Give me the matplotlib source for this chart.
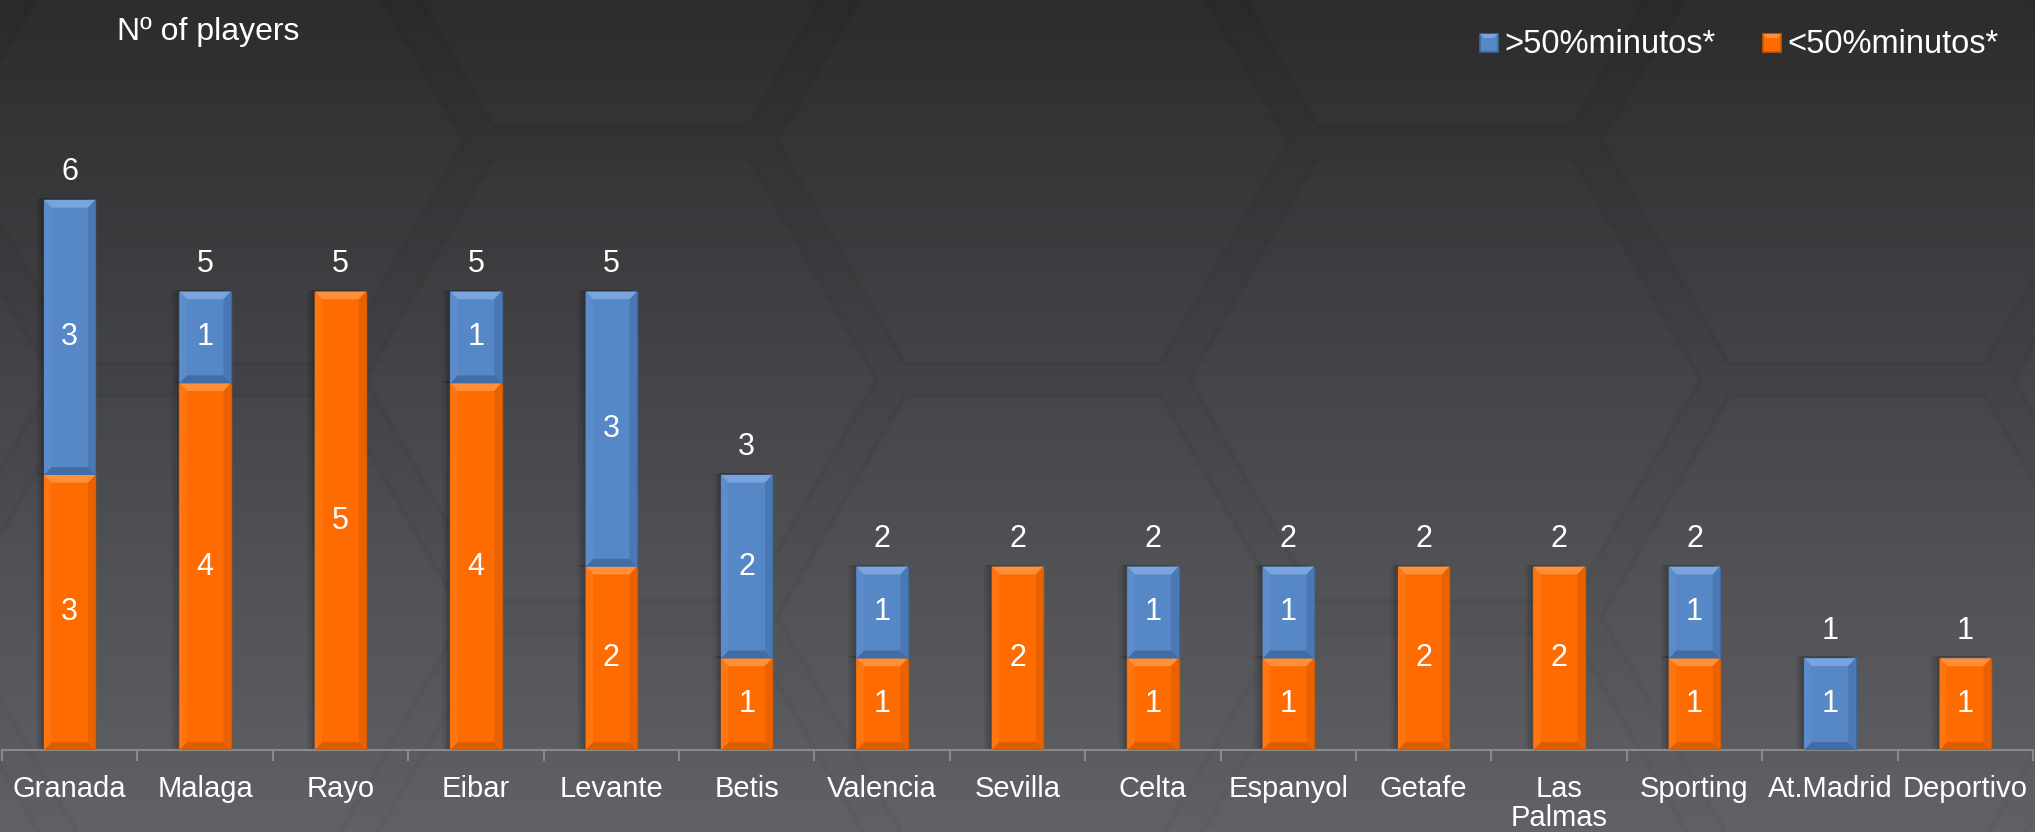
import numpy as np
import matplotlib
matplotlib.use("Agg")
import matplotlib.pyplot as plt
from matplotlib.patches import Polygon, Rectangle

teams = ["Granada", "Malaga", "Rayo", "Eibar", "Levante", "Betis", "Valencia", "Sevilla",
         "Celta", "Espanyol", "Getafe", "Las\nPalmas", "Sporting", "At.Madrid", "Deportivo"]
over50 = [3, 1, 0, 1, 3, 2, 1, 0, 1, 1, 0, 0, 1, 1, 0]
under50 = [3, 4, 5, 4, 2, 1, 1, 2, 1, 1, 2, 2, 1, 0, 1]
legend_labels = [">50%minutos*", "<50%minutos*"]
ylabel_text = "Nº of players"

plt.rcParams['font.family'] = ['Liberation Sans', 'DejaVu Sans']

W, H, DPI = 2035, 832, 100
fig = plt.figure(figsize=(W / DPI, H / DPI), dpi=DPI)

# background gradient
bg = fig.add_axes([0, 0, 1, 1])
bg.set_axis_off()
grad = np.linspace(0, 1, 256)[:, None]
top = np.array([0x2a, 0x2a, 0x2c]) / 255
bot = np.array([0x60, 0x61, 0x66]) / 255
img = top[None, None, :] * (1 - grad[..., None]) + bot[None, None, :] * grad[..., None]
img = np.repeat(img, 4, axis=1)
bg.imshow(img, aspect='auto', extent=[0, 1, 0, 1], origin='upper')
# faint hexagon pattern
asp = W / H
R = 0.135
for i, cx in enumerate(np.arange(-0.1, 1.2, 1.5 * R)):
    for cy in np.arange(-0.6, 1.6, np.sqrt(3) * R * asp):
        yy = cy + (0.5 * np.sqrt(3) * R * asp if i % 2 else 0)
        ang = np.linspace(0, 2 * np.pi, 7)
        px = cx + R * 0.93 * np.cos(ang)
        py = yy + R * 0.93 * np.sin(ang) * asp
        bg.add_patch(Polygon(np.c_[px, py], closed=True, transform=bg.transAxes,
                             facecolor=(1, 1, 1, 0.01), edgecolor=(0, 0, 0, 0.03), lw=4))
bg.set_xlim(0, 1)
bg.set_ylim(0, 1)

ax = fig.add_axes([0.001, 82 / 832, 0.998, 750 / 832])
ax.patch.set_alpha(0)
x = np.arange(len(teams))
bw = 0.38

blue = "#5687c7"
orange = "#fe6b00"
b_or = ax.bar(x, under50, bw, color=orange, edgecolor="#cf5a00", lw=1, zorder=3)
b_bl = ax.bar(x, over50, bw, bottom=under50, color=blue, edgecolor="#3d679f", lw=1, zorder=3)

ax.set_xlim(-0.5, len(teams) - 0.5)
ax.set_ylim(0, 750 / 91.7)

bx = 0.055
by = 0.085

def bevel(rect, light, dark, mid_l, mid_d):
    x0, y0 = rect.get_x(), rect.get_y()
    w, h = rect.get_width(), rect.get_height()
    if h <= 0:
        return
    x1, y1 = x0 + w, y0 + h
    for k, a in enumerate([0.10, 0.08, 0.06]):
        ax.add_patch(Rectangle((x0 - 0.02 - 0.02 * k, y0), w, h + 0.02, facecolor=(0, 0, 0, a),
                               edgecolor='none', zorder=2))
    polys = [
        ([(x0, y1), (x1, y1), (x1 - bx, y1 - by), (x0 + bx, y1 - by)], light),
        ([(x0, y0), (x1, y0), (x1 - bx, y0 + by), (x0 + bx, y0 + by)], dark),
        ([(x0, y0), (x0, y1), (x0 + bx, y1 - by), (x0 + bx, y0 + by)], mid_l),
        ([(x1, y0), (x1, y1), (x1 - bx, y1 - by), (x1 - bx, y0 + by)], mid_d),
    ]
    for pts, c in polys:
        ax.add_patch(Polygon(pts, closed=True, facecolor=c, edgecolor='none', zorder=4))

for r in b_or:
    bevel(r, "#ff9038", "#dc5c00", "#ff7610", "#ea6200")
for r in b_bl:
    bevel(r, "#79a4dd", "#426ca5", "#5d8ccb", "#4a78b5")

for i in range(len(teams)):
    if under50[i] > 0:
        ax.text(x[i], under50[i] / 2, str(under50[i]), ha='center', va='center',
                color='white', fontsize=22, zorder=5)
    if over50[i] > 0:
        ax.text(x[i], under50[i] + over50[i] / 2, str(over50[i]), ha='center', va='center',
                color='white', fontsize=22, zorder=5)
    tot = under50[i] + over50[i]
    ax.text(x[i], tot + 0.30, str(tot), ha='center', va='center', color='white',
            fontsize=22, zorder=5)

for s in ['top', 'right', 'left']:
    ax.spines[s].set_visible(False)
ax.spines['bottom'].set_color('#8a8a8a')
ax.spines['bottom'].set_linewidth(1.5)
ax.set_yticks([])
ax.set_xticks(x)
ax.set_xticklabels(teams, color='white', fontsize=21, linespacing=1.05)
ax.tick_params(axis='x', length=0, pad=18)
ax.set_xticks(np.arange(-0.5, len(teams) + 0.5, 1), minor=True)
ax.tick_params(axis='x', which='minor', length=8, color='#8a8a8a', width=1.5)

fig.text(117 / W, 1 - 40 / H, ylabel_text, color='white', fontsize=23, ha='left', va='baseline')

leg_items = [(1480, blue, "#3d679f", "#79a4dd"), (1763, orange, "#cf5a00", "#ff9038")]
for (lx, fc, ec, hl), lab in zip(leg_items, legend_labels):
    fig.patches.append(Rectangle((lx / W, 1 - 52 / H), 18 / W, 18 / H, transform=fig.transFigure,
                                 facecolor=fc, edgecolor=ec, lw=1.2, figure=fig))
    fig.patches.append(Polygon([(lx / W, 1 - 34 / H), ((lx + 18) / W, 1 - 34 / H),
                                ((lx + 14) / W, 1 - 38 / H), ((lx + 4) / W, 1 - 38 / H)],
                               closed=True, transform=fig.transFigure, facecolor=hl,
                               edgecolor='none', figure=fig))
    fig.text((lx + 24) / W, 1 - 53 / H, lab, color='white', fontsize=23.5, ha='left', va='baseline')

fig.savefig("out.png", dpi=DPI)
